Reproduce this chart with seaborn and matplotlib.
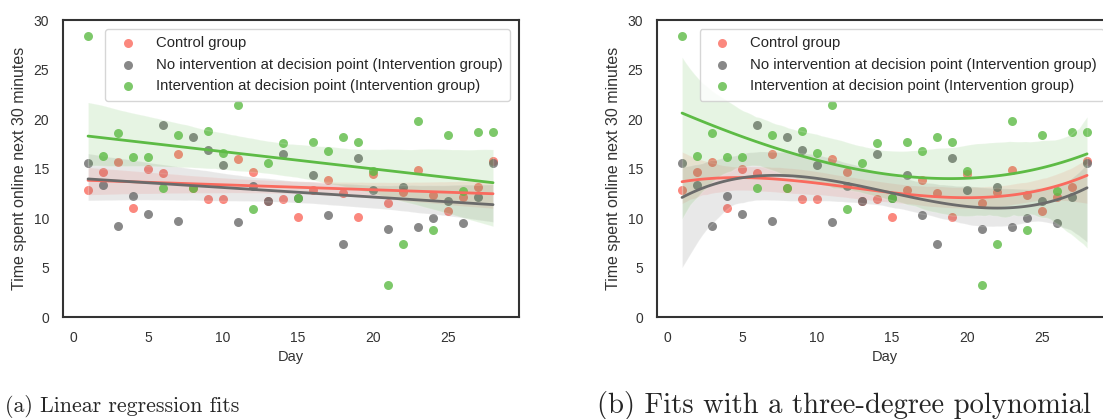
import numpy as np
import pandas as pd
import matplotlib
matplotlib.use("Agg")
import matplotlib.pyplot as plt
import seaborn as sns

days = list(range(1, 29))
control = [12.8, 14.6, 15.7, 11.0, 14.9, 14.5, 16.5, 13.0, 11.9, 11.9,
           16.0, 14.6, 11.7, 11.9, 10.1, 12.8, 13.8, 12.5, 10.1, 14.4,
           11.5, 12.6, 14.8, 12.3, 10.7, 12.1, 13.1, 15.8]
no_interv = [15.6, 13.3, 9.15, 12.2, 10.4, 19.4, 9.7, 18.2, 16.9, 15.4,
             9.6, 13.2, 11.7, 16.5, 12.0, 14.3, 10.3, 7.4, 16.1, 12.8,
             8.9, 13.1, 9.05, 10.0, 11.7, 9.5, 12.1, 15.6]
interv = [28.4, 16.3, 18.6, 16.2, 16.2, 13.0, 18.4, 13.0, 18.8, 16.6,
          21.4, 10.9, 15.6, 17.6, 12.0, 17.7, 16.8, 18.2, 17.7, 14.7,
          3.2, 7.4, 19.8, 8.75, 18.4, 12.7, 18.7, 18.7]

labels = ["Control group",
          "No intervention at decision point (Intervention group)",
          "Intervention at decision point (Intervention group)"]
colors = ["#fa6a5e", "#6b6b6b", "#5dbb45"]
series = [control, no_interv, interv]
captions = ["(a) Linear regression fits", "(b) Fits with a three-degree polynomial"]

sns.set_theme(style="white")
plt.rcParams['font.family'] = ['Liberation Sans', 'DejaVu Sans']

W, H = 1103, 419
fig = plt.figure(figsize=(W / 100, H / 100), dpi=100)

ax_px = [(63, 20, 456, 297), (657, 20, 456, 297)]
orders = [1, 3]
for k, (x0, y0, w, h) in enumerate(ax_px):
    ax = fig.add_axes([x0 / W, 1 - (y0 + h) / H, w / W, h / H])
    for vals, lab, col in zip(series, labels, colors):
        df = pd.DataFrame({"Day": days, "t": vals})
        sns.regplot(data=df, x="Day", y="t", ax=ax, order=orders[k], color=col,
                    label=lab, seed=0, truncate=True,
                    scatter_kws={"s": 42, "alpha": 0.8, "linewidths": 0},
                    line_kws={"lw": 2})
    ax.set_xlim(-0.67, 29.73)
    ax.set_ylim(0, 30)
    ax.set_yticks([0, 5, 10, 15, 20, 25, 30])
    ax.set_xticks([0, 5, 10, 15, 20, 25])
    ax.tick_params(labelsize=10, colors="#333333", pad=4)
    ax.set_xlabel("Day", fontsize=10.5, color="#333333")
    ax.set_ylabel("Time spent online next 30 minutes", fontsize=11.5, color="#333333",
                  labelpad=5)
    for s in ax.spines.values():
        s.set_color("#333333")
        s.set_linewidth(1.5)
    ax.legend(loc="upper right", fontsize=10.7, frameon=True, borderaxespad=0.6,
              handletextpad=0.9, borderpad=0.5)

fig.text(5 / W, 1 - 406 / H, captions[0], fontsize=15.8, family="cmr10",
         va="center", ha="left")
fig.text(597 / W, 1 - 405 / H, captions[1], fontsize=20.6, family="cmr10",
         va="center", ha="left")

fig.savefig("out.png", dpi=100)
